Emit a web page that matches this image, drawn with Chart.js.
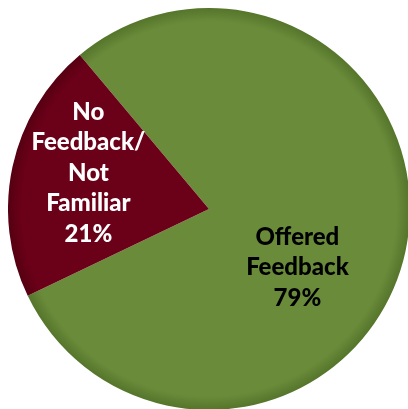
<!DOCTYPE html>
<html>
<head>
<meta charset="utf-8">
<script src="https://cdn.jsdelivr.net/npm/chart.js@4"></script>
<style>
  html, body { margin: 0; padding: 0; background: #fff; overflow: hidden; width: 408px; height: 409px; }
  #wrap { position: absolute; left: 8px; top: 8px; width: 402px; height: 402px; }
</style>
</head>
<body>
<div id="wrap"><canvas id="pie" width="402" height="402"></canvas></div>
<script>
// --- data ---
const categories = ['Offered Feedback', 'No Feedback/Not Familiar'];
const shares = [79, 21];
// label lines drawn inside each slice
const labelLines = [
    ['Offered', 'Feedback', '79%'],
    ['No', 'Feedback/', 'Not', 'Familiar', '21%']
];
const sliceColors = ['#6a8c3a', '#6b0019'];
const rimColors = ['#55752b', '#560012'];
const textColors = ['#000000', '#ffffff'];
// label centre as fraction of radius from pie centre
const labelSpots = [[0.44, 0.29], [-0.60, -0.18]];

// radial shading so the rim looks a bit darker, like the original
function shade(ctx) {
    const chart = ctx.chart;
    const area = chart.chartArea;
    if (!area) return sliceColors[ctx.dataIndex];
    const cx = (area.left + area.right) / 2;
    const cy = (area.top + area.bottom) / 2;
    const r = Math.min(area.right - area.left, area.bottom - area.top) / 2;
    const g = chart.ctx.createRadialGradient(cx, cy, 0, cx, cy, r);
    g.addColorStop(0, sliceColors[ctx.dataIndex]);
    g.addColorStop(0.93, sliceColors[ctx.dataIndex]);
    g.addColorStop(1, rimColors[ctx.dataIndex]);
    return g;
}

const sliceLabels = {
    id: 'sliceLabels',
    afterDatasetsDraw(chart) {
        const c = chart.ctx;
        const arc = chart.getDatasetMeta(0).data[0];
        if (!arc) return;
        const r = arc.outerRadius;
        c.save();
        c.font = '900 24px Lato';
        c.textAlign = 'center';
        c.textBaseline = 'middle';
        labelLines.forEach((lines, i) => {
            const x = arc.x + labelSpots[i][0] * r;
            const y = arc.y + labelSpots[i][1] * r;
            const lh = 30.5;
            const top = y - (lines.length - 1) * lh / 2;
            c.fillStyle = textColors[i];
            lines.forEach((t, k) => c.fillText(t, x, top + k * lh));
        });
        c.restore();
    }
};

new Chart(document.getElementById('pie'), {
    type: 'pie',
    data: {
        labels: categories,
        datasets: [{
            data: shares,
            backgroundColor: shade,
            borderWidth: 0
        }]
    },
    options: {
        responsive: false,
        animation: false,
        rotation: -40,
        layout: { padding: 0 },
        plugins: {
            legend: { display: false },
            tooltip: { enabled: false }
        }
    },
    plugins: [sliceLabels]
});
</script>
</body>
</html>
